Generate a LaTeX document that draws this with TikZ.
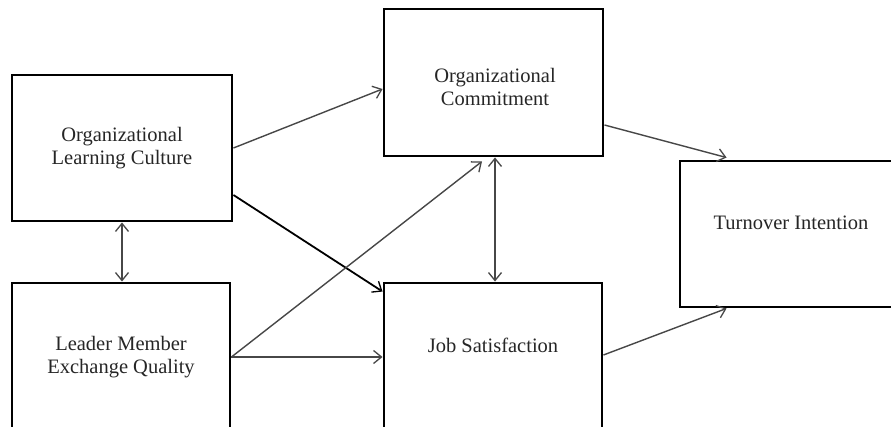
\documentclass[tikz,border=0pt]{standalone}
\usepackage{fontspec}
\setmainfont{Liberation Serif}
\usetikzlibrary{arrows.meta}

\begin{document}
\begin{tikzpicture}[x=1pt, y=-1pt,
box/.style = {draw, line width=2.9pt, inner sep=0pt, align=center,
              font=\fontsize{20.5}{23.5}\selectfont, text=black!85},
lbl/.style = {inner sep=0pt, align=center,
              font=\fontsize{20.5}{23.5}\selectfont, text=black!85},
every edge/.style = {draw, line width=1.4pt, black!72,
                     -{Straight Barb[length=8pt,width=13pt,line width=1.3pt]}},
both/.style = {{Straight Barb[length=8pt,width=13pt,line width=1.3pt]}-{Straight Barb[length=8pt,width=13pt,line width=1.3pt]}}
                    ]
\useasboundingbox (0,0) rectangle (891,427);
\fill[white] (0,0) rectangle (891,427);
% boxes
\node[box, minimum width=220pt, minimum height=146pt] (olc) at (122,148)
        {Organizational\\Learning Culture};
\node[box, minimum width=218pt, minimum height=148pt] (lmeq) at (121,357)
        {Leader Member\\Exchange Quality};
\node[box, minimum width=219pt, minimum height=147pt] (oc) at (493.5,82.5) {};
\node[lbl] (octxt) at (495,87) {Organizational\\Commitment};
\node[box, minimum width=218pt, minimum height=180pt] (js) at (493,373) {};
\node[lbl] (jstxt) at (493,345) {Job Satisfaction};
\node[box, minimum width=225pt, minimum height=146pt] (ti) at (792.5,234) {};
\node[lbl] (titxt) at (791,223) {Turnover Intention};
% paths
\draw   (olc.east) edge ([yshift=-6.5pt]oc.west)
        ([yshift=-47pt]olc.east) edge[black, line width=1.8pt] ([yshift=-10pt]js.north west)
        (lmeq.east) edge (js.west |- lmeq.east)
        (lmeq.east) edge ([shift={(-11.5pt,-4pt)}]oc.south)
        (olc.south) edge[both] (olc.south |- lmeq.north)
        ([xshift=1.5pt]oc.south) edge[both] ([xshift=1.5pt]oc.south |- js.north)
        ([yshift=-42.5pt]oc.east) edge ([shift={(48pt,2pt)}]ti.north west)
        ([yshift=2pt]js.east |- lmeq.east) edge ([xshift=48pt]ti.south west);
\end{tikzpicture}
\end{document}
